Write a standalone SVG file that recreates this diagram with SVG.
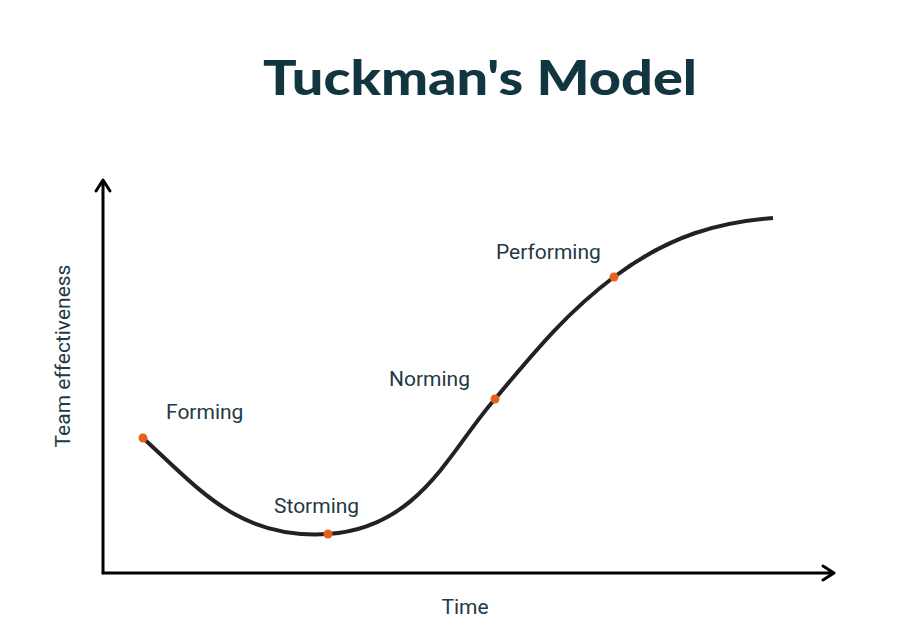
<svg xmlns="http://www.w3.org/2000/svg" width="921" height="642" viewBox="0 0 921 642">
<style>
.lbl{font-family:Roboto,"Liberation Sans",sans-serif;font-size:21px;fill:#1f3a44}
.dot{fill:#e8601c}
.ax{stroke:#000;stroke-width:3;fill:none;stroke-linecap:round;stroke-linejoin:round}
</style>
<rect width="921" height="642" fill="#fff"/>
<text x="263" y="95" textLength="434" lengthAdjust="spacingAndGlyphs" font-family="Lato,'Liberation Sans',sans-serif" font-weight="900" font-size="47" fill="#12363f">Tuckman's Model</text>
<g id="connectors">
<path class="ax" d="M103 573 V180 M96 191 L103 180 L110 191"/>
<path class="ax" d="M103 573 H834 M823 566 L834 573 L823 580"/>
<path d="M143 438 C200 490 240 540 328 534 C420 528 450 450 495 399 C540 345 570 310 614 277 C670 235 720 222 773 218" stroke="#222" stroke-width="4" fill="none"/>
</g>
<g id="forming"><circle class="dot" cx="143" cy="438" r="4.5"/><text class="lbl" x="166" y="419">Forming</text></g>
<g id="storming"><circle class="dot" cx="328" cy="534" r="4.5"/><text class="lbl" x="274" y="513">Storming</text></g>
<g id="norming"><circle class="dot" cx="495" cy="399" r="4.5"/><text class="lbl" x="389" y="386">Norming</text></g>
<g id="performing"><circle class="dot" cx="614" cy="277" r="4.5"/><text class="lbl" x="496" y="259">Performing</text></g>
<text class="lbl" x="465" y="614" text-anchor="middle" font-size="24">Time</text>
<text class="lbl" transform="translate(70 356) rotate(-90)" text-anchor="middle" font-size="24">Team effectiveness</text>
</svg>
